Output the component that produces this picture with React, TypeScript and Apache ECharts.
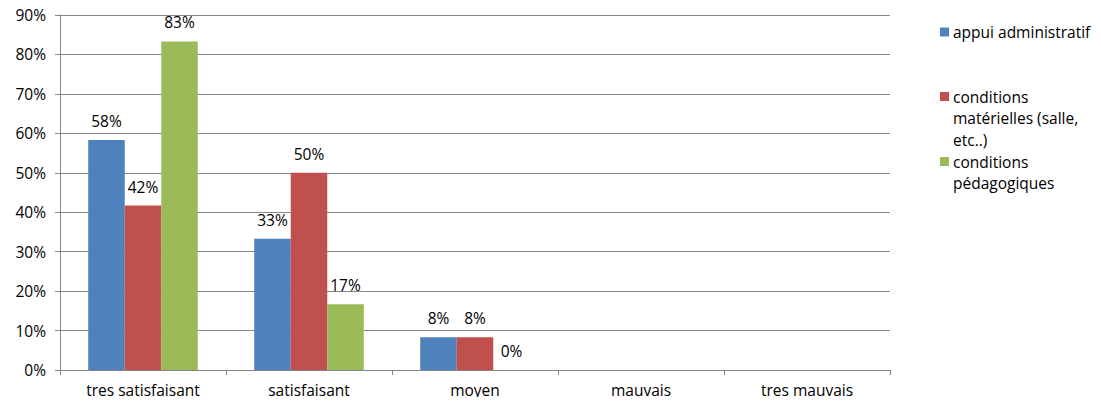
import React, { useEffect, useRef } from "react";
import * as echarts from "echarts";

const categories = ["tres satisfaisant", "satisfaisant", "moyen", "mauvais", "tres mauvais"];
const seriesNames = ["appui administratif", "conditions matérielles (salle, etc..)", "conditions pédagogiques"];
const appuiAdministratif = [58.3, 33.3, 8.3, null, null];
const conditionsMaterielles = [41.7, 50, 8.3, null, null];
const conditionsPedagogiques = [83.3, 16.7, 0, null, null];
const colors = ["#4F81BD", "#C0504D", "#9BBB59"];
const legendLines = [
  "appui administratif",
  "conditions\nmatérielles (salle,\netc..)",
  "conditions\npédagogiques",
];

const FONT = "'Open Sans', 'Noto Sans', sans-serif";
const FS = 15.5;

export default function App() {
  const ref = useRef<HTMLDivElement>(null);
  useEffect(() => {
    if (!ref.current) return;
    const chart = echarts.init(ref.current, null, { renderer: "svg" });
    const values = [appuiAdministratif, conditionsMaterielles, conditionsPedagogiques];
    const lineH = 21.5;
    const legendCenters = [32, 96.5, 161.5];
    const legendGraphics: any[] = [];
    legendLines.forEach((txt, i) => {
      legendGraphics.push({
        type: "rect",
        left: 940,
        top: legendCenters[i] - 4.5,
        shape: { width: 9, height: 9 },
        style: { fill: colors[i] },
      });
      legendGraphics.push({
        type: "text",
        x: 953,
        y: legendCenters[i] - lineH / 2,
        style: {
          text: txt,
          fill: "#000",
          font: `${FS}px ${FONT}`,
          lineHeight: lineH,
          verticalAlign: "top",
          align: "left",
        },
      });
    });
    chart.setOption({
      animation: false,
      textStyle: { fontFamily: FONT },
      color: colors,
      grid: { left: 60, right: 211, top: 15, bottom: 35, containLabel: false },
      graphic: legendGraphics,
      xAxis: {
        type: "category",
        data: categories,
        axisLine: { lineStyle: { color: "#868686", width: 1 } },
        axisTick: { show: true, length: 5, lineStyle: { color: "#868686" } },
        axisLabel: { color: "#000", fontSize: FS, fontFamily: FONT, margin: 12 },
      },
      yAxis: {
        type: "value",
        min: 0,
        max: 90,
        interval: 10,
        axisLine: { show: true, lineStyle: { color: "#868686", width: 1 } },
        axisTick: { show: true, length: 5, lineStyle: { color: "#868686" } },
        splitLine: { lineStyle: { color: "#868686", width: 1 } },
        axisLabel: { color: "#000", fontSize: FS, fontFamily: FONT, margin: 14, formatter: "{value}%" },
      },
      series: seriesNames.map((name, i) => ({
        name,
        type: "bar",
        data: values[i],
        barGap: "0%",
        barCategoryGap: "34%",
        itemStyle: { color: colors[i] },
        label: {
          show: true,
          position: "top",
          distance: 11,
          color: "#000",
          fontSize: FS,
          fontFamily: FONT,
          formatter: (p: any) => `${Math.round(p.value)}%`,
        },
      })),
    });
    return () => chart.dispose();
  }, []);
  return <div ref={ref} style={{ width: 1101, height: 405, margin: -8 }} />;
}
